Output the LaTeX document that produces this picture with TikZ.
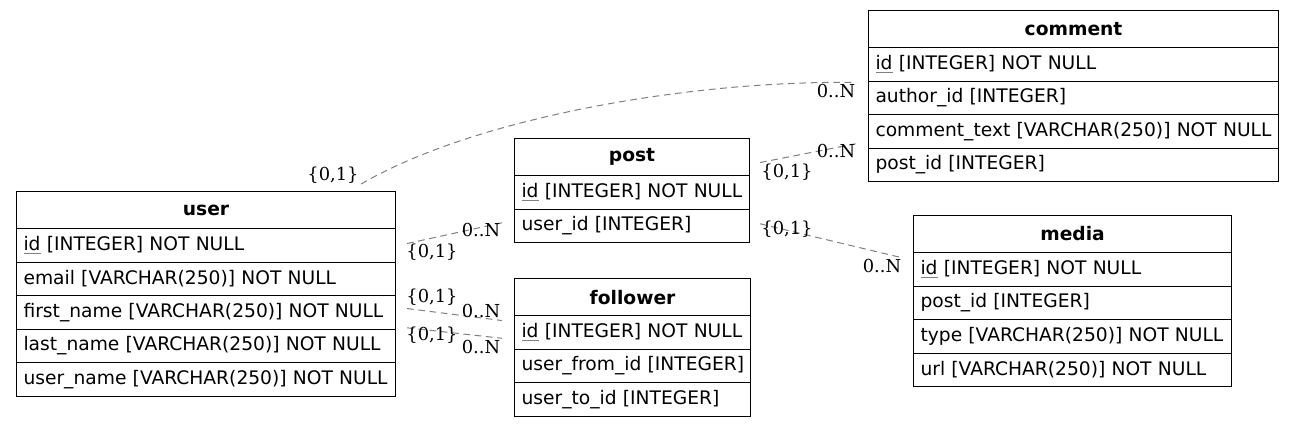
\documentclass[tikz,border=0pt]{standalone}
\usepackage{fontspec}
\newfontfamily\dejavu{DejaVu Sans}
\newfontfamily\dejavuserif{DejaVu Serif}
\begin{document}
\begin{tikzpicture}[x=0.75pt,y=-0.75pt,
  cell/.style={draw=black, line width=0.8pt, anchor=north west, inner ysep=0pt, inner xsep=5.25pt,
    minimum height=25.125pt, font=\dejavu\fontsize{14}{16}\selectfont, align=left},
  head/.style={draw=black, line width=0.8pt, anchor=north west, inner sep=0pt,
    minimum height=27.75pt, font=\dejavu\bfseries\fontsize{14}{16}\selectfont},
  rel/.style={draw=gray, line width=0.75pt, dash pattern=on 5pt off 3.5pt},
  card/.style={inner sep=0pt, font=\dejavuserif\fontsize{13.4}{16}\selectfont}
]
\useasboundingbox (0,0) rectangle (1293,426);
\newcommand{\pk}{{\setbox0\hbox{id}\rlap{\color{gray}\rule[-2.2pt]{\wd0}{0.7pt}}id}}
% user
\node[head, minimum width=284.25pt] (user-h) at (16,191) {user};
\node[cell, text width=273.75pt] (user-id) at (16,228) {\mbox{\pk{} [INTEGER] NOT NULL}};
\node[cell, text width=273.75pt] (user-email) at (16,261.5) {\mbox{email [VARCHAR(250)] NOT NULL}};
\node[cell, text width=273.75pt] (user-first) at (16,295) {\mbox{first\_name [VARCHAR(250)] NOT NULL}};
\node[cell, text width=273.75pt] (user-last) at (16,328.5) {\mbox{last\_name [VARCHAR(250)] NOT NULL}};
\node[cell, text width=273.75pt] (user-uname) at (16,362) {\mbox{user\_name [VARCHAR(250)] NOT NULL}};
% post
\node[head, minimum width=176.25pt] (post-h) at (514,138) {post};
\node[cell, text width=165.75pt] (post-id) at (514,175) {\mbox{\pk{} [INTEGER] NOT NULL}};
\node[cell, text width=165.75pt] (post-userid) at (514,208.5) {\mbox{user\_id [INTEGER]}};
% follower
\node[head, minimum width=177pt] (fol-h) at (514,278) {follower};
\node[cell, text width=166.5pt] (fol-id) at (514,315) {\mbox{\pk{} [INTEGER] NOT NULL}};
\node[cell, text width=166.5pt] (fol-from) at (514,348.5) {\mbox{user\_from\_id [INTEGER]}};
\node[cell, text width=166.5pt] (fol-to) at (514,382) {\mbox{user\_to\_id [INTEGER]}};
% comment
\node[head, minimum width=307.5pt] (com-h) at (868,10) {comment};
\node[cell, text width=297pt] (com-id) at (868,47) {\mbox{\pk{} [INTEGER] NOT NULL}};
\node[cell, text width=297pt] (com-author) at (868,80.5) {\mbox{author\_id [INTEGER]}};
\node[cell, text width=297pt] (com-text) at (868,114) {\mbox{comment\_text [VARCHAR(250)] NOT NULL}};
\node[cell, text width=297pt] (com-postid) at (868,147.5) {\mbox{post\_id [INTEGER]}};
% media
\node[head, minimum width=238.5pt] (med-h) at (913,215) {media};
\node[cell, text width=228pt] (med-id) at (913,252) {\mbox{\pk{} [INTEGER] NOT NULL}};
\node[cell, text width=228pt] (med-postid) at (913,285.5) {\mbox{post\_id [INTEGER]}};
\node[cell, text width=228pt] (med-type) at (913,319) {\mbox{type [VARCHAR(250)] NOT NULL}};
\node[cell, text width=228pt] (med-url) at (913,352.5) {\mbox{url [VARCHAR(250)] NOT NULL}};
% relations
\draw[rel] ([shift={(-35,-7)}]user-h.north east) .. controls (480,115) and (700,80) .. ([shift={(-12,2)}]com-author.north west);
\draw[rel] ([shift={(11,-1.75)}]user-id.east) -- ([shift={(-12,-3)}]post-userid.west);
\draw[rel] ([shift={(10,5.5)}]post-h.east) -- ([shift={(-11,-4)}]com-postid.north west);
\draw[rel] ([shift={(10,-2)}]post-userid.east) -- ([shift={(-10,6)}]med-id.north west);
\draw[rel] ([shift={(11,-3.75)}]user-first.east) -- ([shift={(-12,-11.75)}]fol-id.west);
\draw[rel] ([shift={(11,-18)}]user-last.east) -- ([shift={(-12,6)}]fol-id.west);
% cardinalities
\node[card] (c1a) at (333,175) {\{0,1\}};
\node[card] (c1b) at (836,91) {0..N};
\node[card] (c2a) at (481,230) {0..N};
\node[card] (c2b) at (432,252) {\{0,1\}};
\node[card] (c3a) at (836,151) {0..N};
\node[card] (c3b) at (787,172) {\{0,1\}};
\node[card] (c4a) at (787,229) {\{0,1\}};
\node[card] (c4b) at (882,266) {0..N};
\node[card] (c5a) at (432,297) {\{0,1\}};
\node[card] (c5b) at (481,311) {0..N};
\node[card] (c6a) at (432,335) {\{0,1\}};
\node[card] (c6b) at (481,347) {0..N};
\end{tikzpicture}
\end{document}
